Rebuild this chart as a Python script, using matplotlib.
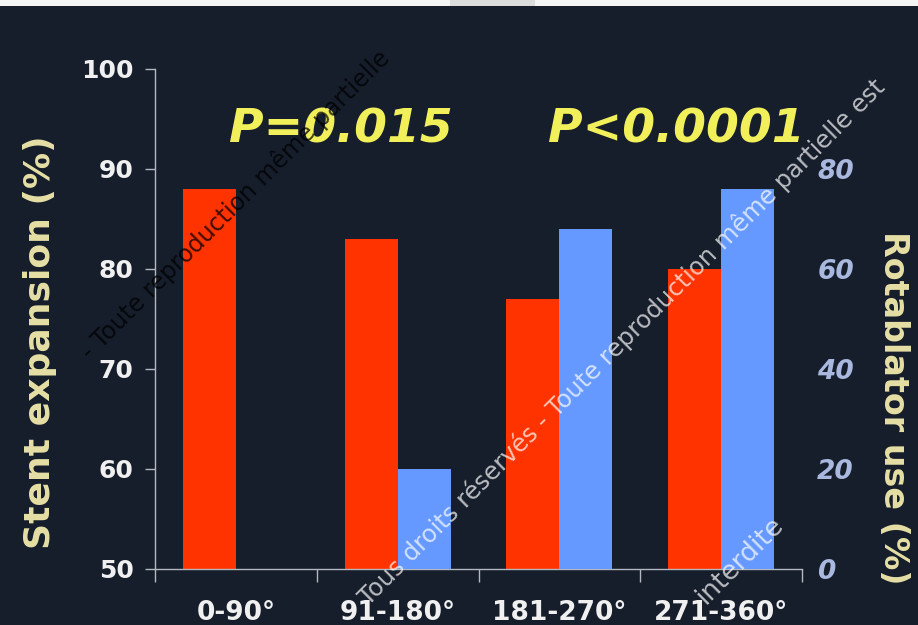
import matplotlib
matplotlib.use("Agg")
import matplotlib.pyplot as plt
import numpy as np
from matplotlib.patches import Rectangle

# Data
categories = ["0-90°", "91-180°", "181-270°", "271-360°"]
stent_expansion = [88, 83, 77, 80]      # left axis, %
rotablator_use = [0, 20, 68, 76]        # right axis, %
p_labels = ["P=0.015", "P<0.0001"]

BG = "#161e2c"
RED = "#ff3300"
BLUE = "#6699ff"
AXIS = "#b4b8c0"
YELLOW = "#f2f05a"
LABEL_YEL = "#e6e0a6"
RIGHT_TXT = "#a9b8de"

plt.rcParams["font.family"] = ["DejaVu Sans"]

fig = plt.figure(figsize=(9.18, 6.25), dpi=100, facecolor=BG)
ax = fig.add_axes([155 / 918, 1 - 569 / 625, 647 / 918, 500 / 625])
ax.set_facecolor(BG)

x = np.arange(len(categories)) + 0.5
w = 0.328
ax.bar(x - w / 2, stent_expansion, width=w, bottom=0, color=RED, zorder=2)
ax.set_xlim(0, len(categories))
ax.set_ylim(50, 100)
ax.set_yticks([50, 60, 70, 80, 90, 100])

ax2 = ax.twinx()
ax2.set_ylim(0, 100)
ax2.bar(x + w / 2, rotablator_use, width=w, color=BLUE, zorder=2)
ax2.set_yticks([0, 20, 40, 60, 80])

for a in (ax, ax2):
    for s in ("top", "right"):
        a.spines[s].set_visible(False)
ax2.spines["left"].set_visible(False)
ax2.spines["bottom"].set_visible(False)
ax.spines["left"].set_color(AXIS)
ax.spines["bottom"].set_color(AXIS)
ax.spines["left"].set_linewidth(1.0)
ax.spines["bottom"].set_linewidth(1.0)

ax.tick_params(axis="y", colors=AXIS, length=7, width=1, direction="out", pad=8.5,
               labelcolor="#f0f0f0", labelsize=18)
for t in ax.get_yticklabels():
    t.set_fontweight("bold")

ax.set_xticks(x)
ax.set_xticklabels(categories, fontsize=19, fontweight="bold", color="#f0f0f0")
ax.tick_params(axis="x", which="major", length=0, pad=22)
ax.set_xticks(np.arange(len(categories) + 1), minor=True)
ax.tick_params(axis="x", which="minor", length=9, width=1, color=AXIS, direction="out")

ax2.tick_params(axis="y", length=0, pad=11, labelcolor=RIGHT_TXT, labelsize=19)
for t in ax2.get_yticklabels():
    t.set_fontweight("bold")
    t.set_fontstyle("italic")

# Axis titles
fig.text(40 / 918, 1 - 342 / 625, "Stent expansion (%)", rotation=90, ha="center", va="center",
         fontsize=26, fontweight="bold", color=LABEL_YEL)
fig.text(893 / 918, 1 - 408 / 625, "Rotablator use (%)", rotation=-90, ha="center", va="center",
         fontsize=24, fontweight="bold", color=LABEL_YEL)

# Significance labels
ax.text(0.287, 0.878, p_labels[0], transform=ax.transAxes, ha="center", va="center",
        fontsize=34, fontweight="bold", fontstyle="italic", color=YELLOW, zorder=5)
ax.text(0.805, 0.878, p_labels[1], transform=ax.transAxes, ha="center", va="center",
        fontsize=34, fontweight="bold", fontstyle="italic", color=YELLOW, zorder=5)

# Copyright watermark
fig.text(235 / 918, 1 - 205 / 625, "- Toute reproduction même partielle",
         rotation=45, rotation_mode="anchor", ha="center", va="center",
         fontsize=17, color="#000000", alpha=0.75, zorder=10)
fig.text(622 / 918, 1 - 342 / 625, "Tous droits réservés - Toute reproduction même partielle est",
         rotation=45, rotation_mode="anchor", ha="center", va="center",
         fontsize=17.5, color="#ffffff", alpha=0.7, zorder=10)
fig.text(740 / 918, 1 - 560 / 625, "interdite",
         rotation=45, rotation_mode="anchor", ha="center", va="center",
         fontsize=19, color="#ffffff", alpha=0.7, zorder=10)

# Light strip along the top edge
fig.patches.append(Rectangle((0, 1 - 6 / 625), 1, 6 / 625, transform=fig.transFigure,
                             facecolor="#f4f4f4", edgecolor="none", zorder=0))
fig.patches.append(Rectangle((450 / 918, 1 - 6 / 625), 85 / 918, 6 / 625, transform=fig.transFigure,
                             facecolor="#dcdcdc", edgecolor="none", zorder=0))

fig.savefig("out.png", dpi=100, facecolor=BG)
